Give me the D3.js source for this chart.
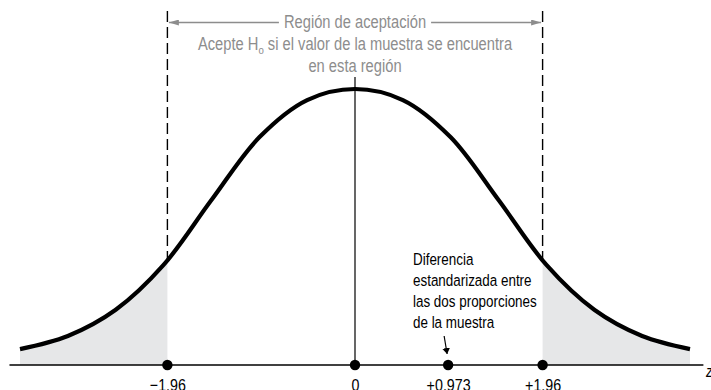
<!DOCTYPE html>
<html>
<head>
<meta charset="utf-8">
<script src="https://cdn.jsdelivr.net/npm/d3@7"></script>
<style>
  body { margin: 0; background: #fff; }
  svg text { font-family: "Liberation Sans", Arial, sans-serif; }
</style>
</head>
<body>
<div id="chart"></div>
<script>
// curve (z value, relative height)
const curveZ = [-3.5, -3.0, -2.5, -2.0, -1.5, -1.0, -0.5, 0, 0.5, 1.0, 1.5, 2.0, 2.5, 3.0, 3.5];
const curveH = [0.023, 0.042, 0.080, 0.145, 0.239, 0.330, 0.384, 0.400, 0.384, 0.330, 0.239, 0.145, 0.080, 0.042, 0.023];
const critical = [-1.96, 1.96];
const critHeight = 0.150;
const pointValues = [-1.96, 0, 0.973, 1.96];
const pointLabels = ["\u22121.96", "0", "+0.973", "+1.96"];
const annotation = ["Diferencia", "estandarizada entre", "las dos proporciones", "de la muestra"];
const observed = 0.973;

const W = 711, H = 390;
const svg = d3.select("#chart").append("svg").attr("width", W).attr("height", H);

const x = d3.scaleLinear().domain([-3.5, 3.5]).range([20, 690]);
const y = d3.scaleLinear().domain([0, 0.4]).range([365, 89]);

const data = curveZ.map((z, i) => ({z: z, h: curveH[i]}));

// no condensed face installed, so squeeze Liberation Sans horizontally
function ntext(px, py, anchor, size, fill, sx) {
  return svg.append("g")
    .attr("transform", `translate(${px},${py}) scale(${sx},1)`)
    .append("text")
    .attr("text-anchor", anchor)
    .attr("font-size", size)
    .attr("fill", fill);
}

// clip paths for the tails
const defs = svg.append("defs");
defs.append("clipPath").attr("id", "leftTail")
  .append("rect").attr("x", 0).attr("y", 0)
  .attr("width", x(critical[0])).attr("height", H);
defs.append("clipPath").attr("id", "rightTail")
  .append("rect").attr("x", x(critical[1])).attr("y", 0)
  .attr("width", W - x(critical[1])).attr("height", H);

const area = d3.area()
  .x(d => x(d.z)).y0(y(0)).y1(d => y(d.h))
  .curve(d3.curveCatmullRom);

["leftTail", "rightTail"].forEach(id => {
  svg.append("path").datum(data)
    .attr("d", area)
    .attr("fill", "#e6e7e8")
    .attr("clip-path", `url(#${id})`);
});

// dashed critical lines
critical.forEach(c => {
  svg.append("line")
    .attr("x1", x(c)).attr("x2", x(c))
    .attr("y1", 11).attr("y2", y(critHeight))
    .attr("stroke", "#000").attr("stroke-width", 1.4)
    .attr("stroke-dasharray", "11,5");
});

// centre line
svg.append("line")
  .attr("x1", x(0)).attr("x2", x(0))
  .attr("y1", 77).attr("y2", y(0))
  .attr("stroke", "#000").attr("stroke-width", 1.2);

// the curve
svg.append("path").datum(data)
  .attr("d", d3.line().x(d => x(d.z)).y(d => y(d.h)).curve(d3.curveCatmullRom))
  .attr("fill", "none").attr("stroke", "#000").attr("stroke-width", 4.2);

// horizontal axis
svg.append("line")
  .attr("x1", x(-3.61)).attr("x2", x(3.64))
  .attr("y1", y(0)).attr("y2", y(0))
  .attr("stroke", "#000").attr("stroke-width", 1.5);

const axis = d3.axisBottom(x)
  .tickValues(pointValues)
  .tickSize(0)
  .tickPadding(10)
  .tickFormat((d, i) => pointLabels[i]);
svg.append("g")
  .attr("transform", `translate(0,${y(0)})`)
  .call(axis)
  .call(g => g.select(".domain").remove())
  .call(g => g.selectAll(".tick text")
    .attr("font-size", 17).attr("fill", "#000")
    .attr("font-family", null)
    .attr("dy", "0.95em")
    .attr("transform", "scale(0.84,1)"));

svg.selectAll(".pt").data(pointValues).enter()
  .append("circle")
  .attr("cx", d => x(d)).attr("cy", y(0)).attr("r", 5.2)
  .attr("fill", "#000");

ntext(706, 377, "start", 16, "#000", 0.82).attr("font-style", "italic").text("z");

// top banner
const grey = "#8d8d8d";
defs.append("marker").attr("id", "ah")
  .attr("viewBox", "0 0 10 6").attr("refX", 10).attr("refY", 3)
  .attr("markerWidth", 10).attr("markerHeight", 6)
  .attr("markerUnits", "userSpaceOnUse").attr("orient", "auto")
  .append("path").attr("d", "M0,0 L10,3 L0,6 Z").attr("fill", grey);

const midX = x(0);
const bannerSx = 0.84;
const title = ntext(midX, 28, "middle", 17.5, grey, bannerSx).text("Región de aceptación");
const tw = title.node().getComputedTextLength() * bannerSx;

svg.append("line")
  .attr("x1", midX - tw / 2 - 5).attr("x2", x(critical[0]) + 1.5)
  .attr("y1", 22.5).attr("y2", 22.5)
  .attr("stroke", grey).attr("stroke-width", 1.5)
  .attr("marker-end", "url(#ah)");
svg.append("line")
  .attr("x1", midX + tw / 2 + 5).attr("x2", x(critical[1]) - 1.5)
  .attr("y1", 22.5).attr("y2", 22.5)
  .attr("stroke", grey).attr("stroke-width", 1.5)
  .attr("marker-end", "url(#ah)");

const l2 = ntext(midX, 50, "middle", 17.5, grey, bannerSx);
l2.append("tspan").text("Acepte H");
l2.append("tspan").attr("font-size", 11.5).attr("dy", 4).text("o");
l2.append("tspan").attr("dy", -4).text(" si el valor de la muestra se encuentra");

ntext(midX, 72, "middle", 17.5, grey, bannerSx).text("en esta región");

// annotation for the observed value
annotation.forEach((t, i) => {
  ntext(413, 265 + i * 21, "start", 17, "#000", 0.79).text(t);
});

defs.append("marker").attr("id", "ahs")
  .attr("viewBox", "0 0 6 8").attr("refX", 6).attr("refY", 4)
  .attr("markerWidth", 6).attr("markerHeight", 8)
  .attr("markerUnits", "userSpaceOnUse").attr("orient", "auto")
  .append("path").attr("d", "M0,0 L6,4 L0,8 Z").attr("fill", "#000");

svg.append("line")
  .attr("x1", x(observed) - 4).attr("y1", 336)
  .attr("x2", x(observed) - 1).attr("y2", 354)
  .attr("stroke", "#000").attr("stroke-width", 1.2)
  .attr("marker-end", "url(#ahs)");
</script>
</body>
</html>
